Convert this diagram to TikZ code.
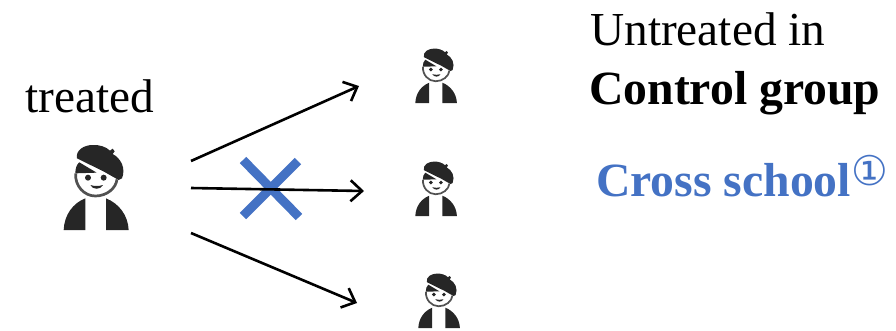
\documentclass[tikz,border=0pt]{standalone}
\usepackage{fontspec}
\setmainfont{Liberation Serif}
\newfontfamily\symfont{DejaVu Sans}
\usetikzlibrary{arrows.meta}
\definecolor{crossblue}{HTML}{4472C4}
\definecolor{icondark}{HTML}{262626}
\tikzset{
  x=1pt,y=-1pt,
  label text/.style={anchor=base west,inner sep=0pt,font=\fontsize{47.3}{50}\selectfont},
  bold text/.style={anchor=base west,inner sep=0pt,font=\fontsize{47.7}{50}\selectfont\bfseries},
  link/.style={line width=2.6pt,-{Straight Barb[length=11.5pt,width=21pt,line width=2.6pt]}},
  crossbar/.style={crossblue,line width=9pt},
  pics/person/.style={code={
    % beret
    \fill[icondark] (-57,-215) .. controls (-62,-240) and (-35,-255) .. (-10,-255)
      .. controls (10,-256) and (30,-250) .. (42,-238) -- (50,-244) -- (56,-236) -- (50,-228)
      .. controls (75,-215) and (90,-185) .. (78,-155) -- (68,-150) -- (24,-175) -- cycle;
    % hair
    \fill[icondark] (-62,-170) .. controls (-62,-185) and (-58,-197) .. (-50,-203)
      -- (2,-172) -- cycle;
    % face outline
    \draw[icondark!80,line width=#1*2.7pt] (-61,-170) .. controls (-64,-132) and (-35,-102) .. (-2,-102)
      .. controls (32,-102) and (60,-125) .. (63,-152);
    % eyes and mouth
    \fill[icondark] (-24,-157) circle (9);
    \fill[icondark] (23,-157) circle (9);
    \fill[icondark] (-17,-135) .. controls (-5,-131) and (8,-131) .. (21,-135)
      .. controls (14,-120) and (-10,-120) .. (-17,-135) -- cycle;
    % jacket
    \fill[icondark] (-97,0) .. controls (-95,-45) and (-70,-80) .. (-32,-95) -- (-32,0) -- cycle;
    \fill[icondark] (30,0) -- (30,-95) .. controls (68,-80) and (96,-45) .. (98,0) -- cycle;
  }}
}
\begin{document}
\begin{tikzpicture}
\useasboundingbox (0,0) rectangle (896,330);
% people
\pic at (96,230) [scale=1/3] {person=1};
\pic at (436,103) [scale=0.64/3] {person=0.64};
\pic at (436,216) [scale=0.64/3] {person=0.64};
\pic at (439,328) [scale=0.64/3] {person=0.64};
% cross, under the arrow
\coordinate (xa) at (243,160);
\coordinate (xb) at (299,217);
\coordinate (xc) at (298,161);
\coordinate (xd) at (243,216);
\draw[crossbar] (xa) -- (xb);
\draw[crossbar] (xc) -- (xd);
% arrows
\coordinate (s1) at (191,161);
\coordinate (s2) at (191,188);
\coordinate (s3) at (191,233);
\coordinate (e1) at (359,86);
\coordinate (e2) at (364,191);
\coordinate (e3) at (357,303);
\draw[link] (s1) -- (e1);
\draw[link] (s2) -- (e2);
\draw[link] (s3) -- (e3);
% labels
\node[label text] (treated) at (25,112) {treated};
\node[label text] (untreated) at (590,45) {Untreated in};
\node[bold text] (control) at (589,104) {Control group};
\node[bold text,text=crossblue] (cross) at (596,196) {Cross school\raisebox{11pt}{\fontsize{41}{41}\mdseries\selectfont\symfont ①}};
\end{tikzpicture}
\end{document}
